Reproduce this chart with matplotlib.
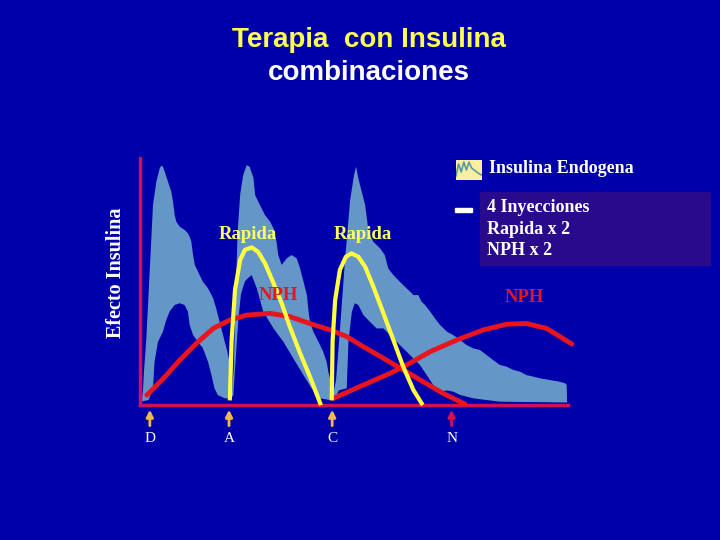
import numpy as np
import matplotlib.pyplot as plt
from matplotlib.patches import Rectangle

# endogenous insulin band (arbitrary units, x: time 0-100, y: effect 0-100)
band_up_x = [0.5, 0.7, 0.93, 1.48, 1.87, 2.26, 2.65, 3.04, 3.82, 4.6, 4.98, 5.37, 5.76, 6.54, 7.32, 7.71, 8.1, 8.49,
             9.27, 10.4, 11.2, 11.6, 12.0, 12.4, 12.8, 13.55, 14.7, 15.9, 17.1, 17.8, 18.6, 19.4, 20.2, 20.95, 21.3,
             21.5,
             21.9, 22.3, 22.8, 23.4, 24.1, 24.9, 25.6, 26.5, 26.9, 28.0, 29.2, 30.4, 31.2, 31.9, 32.3, 33.1, 34.3,
             35.4, 36.6, 37.4, 38.2, 39.0, 39.3, 39.7, 40.5, 41.7, 42.8, 43.6, 44.0, 44.8,
             45.2,
             45.8, 46.7, 47.9, 49.1, 50.0, 50.5, 51.0, 51.8, 52.6, 53.0, 53.4, 54.5, 56.1, 57.2, 58.0, 59.2, 60.7,
             62.3, 63.1, 63.9, 65.0, 65.8, 66.6, 67.8, 68.9, 70.1, 71.7, 73.2, 74.8, 76.3, 77.9, 79.4, 81.0, 82.5,
             84.1, 85.7, 87.2, 88.8, 90.3, 91.9, 93.5, 95.8, 98.1, 99.3, 99.7, 99.8]
band_up_y = [3, 6, 13.5, 27, 40.5, 54, 67.5, 81, 90.4, 95.8, 96.9, 96.5, 94.5, 90.4, 86.4, 82.3, 76.9, 74.2,
             72.2, 70.9, 69.5, 68.1, 66.1, 60.7, 56.7, 54, 49.9, 47.2, 43.2, 39.1, 33.7, 28.3, 23, 17.5, 9.4,
             5,
             15, 40, 70, 85, 93, 97.1, 96.5, 92, 85, 81, 76.9, 74.2, 71.5, 66.1, 60.7, 56.7, 59.4,
             60.7, 59.4, 55.3, 49.9, 44.5, 39.1, 33.7, 29.7, 25.6, 21.6, 17.5, 13.5, 8.1,
             5,
             10, 30, 58.7, 83, 93, 96.5, 91.8, 86.4, 81, 75.6, 70.2, 66.1, 63.4, 60.7, 55.3, 52.6, 49.9,
             47.2, 45.9, 44.5, 44.5, 41.8, 40.5, 37.8, 35.1, 32.4, 29.7, 28.3, 26.3, 24.3, 22.9, 22.3, 20.2, 18.2,
             16.2, 15.5, 14.2, 13.5, 12.1, 11.5, 10.8, 10.1, 9.4, 8.8, 8.1, 1]
band_lo_x = [0.5, 2.0, 3.04, 3.4, 4.2, 5.37, 6.0, 6.9, 8.1, 9.27, 10.4, 11.2, 11.6, 12.4, 13.55, 14.7, 15.9, 16.7,
             17.4, 18.2, 19.8, 21.3,
             21.8, 22.4, 23.0, 23.6, 24.5, 25.3, 26.1, 27.3, 28.8, 31.2, 33.5, 35.8, 38.2, 40.1, 42.1, 44.4, 45.5,
             46.5, 48.3, 48.7, 49.5, 50.2, 51.0, 52.2, 53.7, 55.3, 56.9, 58.4, 60.7, 63.1, 65.4, 67.0, 68.5, 70.1,
             71.7, 73.2, 74.8, 76.3, 77.9, 81.0, 84.1, 99.8]
band_lo_y = [1.5, 2, 6.75, 17.5, 25.6, 29.7, 33.7, 37.8, 40.5, 41.2, 40.5, 37.8, 32.4, 28.3, 25.6, 23, 17.5, 12.1,
             6.75, 4, 2.7, 2.7,
             4, 20, 35, 45, 50, 51.5, 52.6, 47.2, 37.8, 31.0, 25.6, 18.9, 12.1, 6.75, 2.7, 2, 2.5,
             6, 6.75, 25.6, 37.8, 41.2, 40.5, 36.4, 33.7, 31.0, 31.0, 28.3, 24.3, 20.2, 16.2, 12.1, 8.1, 5.4,
             5.9, 5.4, 4.05, 3.4, 2.7, 2.0, 1.35, 1]

# rapid insulin curves
rap1_x = [21.0, 21.4, 22.2, 23.4, 24.5, 26.1, 27.6, 29.2, 31.2, 33.1, 35.0, 37.4, 39.7, 42.1]
rap1_y = [2.7, 26, 46.6, 58.7, 62.8, 63.8, 62, 57.4, 49.3, 41.2, 31.7, 21, 11.5, 0.7]
rap2_x = [44.8, 45.0, 45.6, 46.7, 48.1, 49.4, 51.0, 52.6, 54.5, 56.9, 59.2, 61.5, 63.9, 65.8]
rap2_y = [2.7, 26, 42.5, 54.7, 60, 61.4, 60, 56, 48, 37, 26.3, 15.5, 6, 0.7]

# NPH curves
nph1_x = [1.6, 5.5, 9.3, 13.2, 17.1, 21.0, 24.9, 30.4, 35.0, 39.7, 44.4, 48.3, 52.2, 56.9, 61.5, 66.2, 70.8, 75.9]
nph1_y = [4, 10.8, 18.2, 25, 31, 34.4, 36.4, 37.1, 35.8, 33, 30.4, 27.7, 23.6, 18.9, 14.2, 9.4, 4.7, 0.4]
nph2_x = [45.2, 52.2, 58.4, 62.3, 67.8, 74.0, 80.2, 85.7, 90.3, 95.0, 98.1, 100.9]
nph2_y = [2.7, 8.1, 12.8, 16.2, 21.6, 26.3, 30.4, 32.7, 33, 31, 27.7, 24.7]

# injection times
meals = ['D', 'A', 'C', 'N']
meal_x = [2.3, 20.8, 44.9, 72.8]
meal_col = ['#F0B848', '#F0B848', '#F0B848', '#D0105A']

# legend icon spikes
icon_x = [0, 1, 2, 3, 4, 5, 6, 7, 8, 9, 10]
icon_y = [2, 8, 4, 9, 5, 9, 6, 5, 4, 3, 2.5]

bg = '#0000AA'
fig = plt.figure(figsize=(7.2, 5.4), dpi=100, facecolor=bg)
ax = fig.add_axes([140/720, 135/540, 428/720, 247/540])
ax.set_facecolor(bg)
ax.set_xlim(0, 100)
ax.set_ylim(0, 100)
for s in ['top', 'right']:
    ax.spines[s].set_visible(False)
for s in ['left', 'bottom']:
    ax.spines[s].set_color('#D0105A')
    ax.spines[s].set_linewidth(2.5)
ax.set_xticks([])
ax.set_yticks([])

poly_x = band_up_x + band_lo_x[::-1]
poly_y = band_up_y + band_lo_y[::-1]
ax.fill(poly_x, poly_y, color='#6496C8', lw=0, zorder=1)

ax.plot(nph1_x, nph1_y, color='#E8141E', lw=3.5, clip_on=False, zorder=3, solid_capstyle='round')
ax.plot(nph2_x, nph2_y, color='#E8141E', lw=3.5, clip_on=False, zorder=3, solid_capstyle='round')
ax.plot(rap1_x, rap1_y, color='#FFFF40', lw=3, clip_on=False, zorder=4)
ax.plot(rap2_x, rap2_y, color='#FFFF40', lw=3, clip_on=False, zorder=4)

lab = dict(fontsize=13.5, family='Liberation Serif', fontweight='bold', ha='center', va='center', zorder=5)
ax.text(25.3, 69, 'Rapida', color='#FFFF60', **lab)
ax.text(52.0, 69, 'Rapida', color='#FFFF60', **lab)
ax.text(32.4, 44.5, 'NPH', color='#E8141E', **lab)
ax.text(89.9, 43.7, 'NPH', color='#E8141E', **lab)

for m, x, c in zip(meals, meal_x, meal_col):
    ax.annotate('', xy=(x, -0.8), xytext=(x, -9.5), annotation_clip=False,
                arrowprops=dict(arrowstyle='-|>', color=c, lw=2, mutation_scale=10))
    ax.text(x, -13.5, m, color='white', fontsize=11, family='Liberation Serif',
            ha='center', va='center', clip_on=False)

ax.text(-5.5, 53.6, 'Efecto Insulina', color='white', fontsize=14.5, family='Liberation Serif',
        fontweight='bold', rotation=90, ha='center', va='center')

fig.text(369/720, 1 - 40/540, 'Terapia  con Insulina', color='#FFFF50', fontsize=20,
         family='Liberation Sans', fontweight='bold', ha='center', va='center')
fig.text(369/720, 1 - 73/540, 'combinaciones', color='white', fontsize=20,
         family='Liberation Sans', fontweight='bold', ha='center', va='center')

# legend
iax = fig.add_axes([456/720, 1 - 180/540, 26/720, 20/540])
iax.set_facecolor('#F8F0A0')
iax.plot(icon_x, icon_y, color='#5A9AA0', lw=1.2)
iax.set_xlim(0, 10)
iax.set_ylim(0, 10)
iax.set_xticks([])
iax.set_yticks([])
for s in iax.spines.values():
    s.set_visible(False)
fig.text(489/720, 1 - 169/540, 'Insulina Endogena', color='white', fontsize=13,
         family='Liberation Serif', fontweight='bold', ha='left', va='center')
fig.patches.append(Rectangle((480/720, 1 - 265/540), 230/720, 73/540,
                             transform=fig.transFigure, color='#2A0A8C', zorder=0))
fig.patches.append(Rectangle((455/720, 1 - 212/540), 17/720, 4/540,
                             transform=fig.transFigure, color='white', zorder=1))
for i, t in enumerate(['4 Inyecciones', 'Rapida x 2', 'NPH x 2']):
    fig.text(487/720, 1 - (208 + i * 21)/540, t, color='white', fontsize=13,
             family='Liberation Serif', fontweight='bold', ha='left', va='center')

fig.savefig('out.png', dpi=100, facecolor=bg)
